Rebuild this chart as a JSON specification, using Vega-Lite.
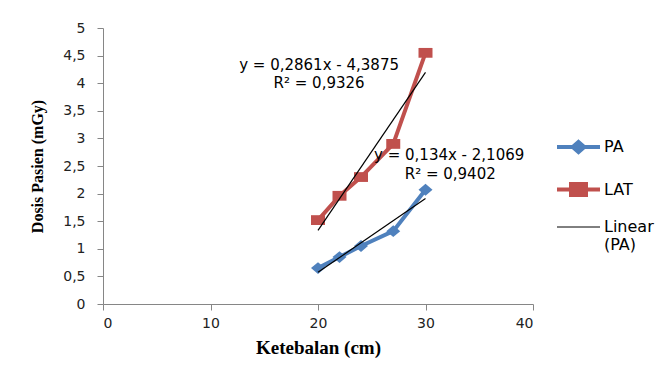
{
  "$schema": "https://vega.github.io/schema/vega-lite/v6.json",
  "width": 430,
  "height": 276,
  "autosize": {"type": "none"},
  "padding": {"left": 103, "top": 28, "right": 137, "bottom": 76},
  "background": "#ffffff",
  "config": {"view": {"stroke": null}},
  "datasets": {
    "series": [
      {"x": 20, "y": 0.65, "series": "PA"},
      {"x": 22, "y": 0.85, "series": "PA"},
      {"x": 24, "y": 1.05, "series": "PA"},
      {"x": 27, "y": 1.32, "series": "PA"},
      {"x": 30, "y": 2.07, "series": "PA"},
      {"x": 20, "y": 1.52, "series": "LAT"},
      {"x": 22, "y": 1.96, "series": "LAT"},
      {"x": 24, "y": 2.3, "series": "LAT"},
      {"x": 27, "y": 2.9, "series": "LAT"},
      {"x": 30, "y": 4.55, "series": "LAT"},
      {"x": 20, "y": 0.5731, "series": "Linear (PA)"},
      {"x": 30, "y": 1.9131, "series": "Linear (PA)"},
      {"x": 20, "y": 1.3345, "series": "Linear (LAT)"},
      {"x": 30, "y": 4.1955, "series": "Linear (LAT)"}
    ],
    "labels": [
      {"x": 20.1, "y": 4.33, "text": "y = 0,2861x - 4,3875"},
      {"x": 20.1, "y": 4.0, "text": "R² = 0,9326"},
      {"x": 32.2, "y": 2.7, "text": "y = 0,134x - 2,1069"},
      {"x": 32.3, "y": 2.355, "text": "R² = 0,9402"}
    ]
  },
  "encoding": {
    "x": {
      "field": "x", "type": "quantitative",
      "scale": {"domain": [0, 40], "nice": false},
      "axis": {
        "title": "Ketebalan (cm)", "values": [0, 10, 20, 30, 40], "grid": false,
        "titleFont": "Liberation Serif", "titleFontWeight": "bold", "titleFontSize": 19, "titleColor": "#000000",
        "labelFont": "DejaVu Sans", "labelFontSize": 14, "labelColor": "#222222",
        "domainColor": "#868686", "tickColor": "#868686", "tickSize": 6, "labelPadding": 6, "titlePadding": 8
      }
    },
    "y": {
      "field": "y", "type": "quantitative",
      "scale": {"domain": [0, 5], "nice": false},
      "axis": {
        "title": "Dosis Pasien (mGy)", "values": [0, 0.5, 1, 1.5, 2, 2.5, 3, 3.5, 4, 4.5, 5], "grid": false,
        "labelExpr": "replace(format(datum.value, '.1~f'), '.', ',')",
        "titleFont": "Liberation Serif", "titleFontWeight": "bold", "titleFontSize": 16, "titleColor": "#000000",
        "labelFont": "DejaVu Sans", "labelFontSize": 14, "labelColor": "#222222",
        "domainColor": "#868686", "tickColor": "#868686", "tickSize": 6, "labelPadding": 12, "titlePadding": 17
      }
    }
  },
  "layer": [
    {
      "data": {"name": "series"},
      "transform": [{"filter": "datum.series === 'PA' || datum.series === 'LAT'"}],
      "mark": {"type": "line", "strokeWidth": 4},
      "encoding": {
        "color": {
          "field": "series", "type": "nominal",
          "scale": {"domain": ["PA", "LAT", "Linear (PA)", "Linear (LAT)"], "range": ["#4F81BD", "#C0504D", "#000000", "#000000"]},
          "legend": {
            "orient": "none", "legendX": 467.5, "legendY": 111, "title": null,
            "values": ["PA", "LAT", "Linear (PA)"],
            "symbolSize": 100, "padding": 0, "rowPadding": 15.5, "labelOffset": 17.5,
            "labelFont": "DejaVu Sans", "labelFontSize": 16, "labelColor": "#000000", "labelLimit": 200,
            "labelExpr": "datum.label == 'Linear (PA)' ? ['Linear', '(PA)'] : datum.label",
            "encode": {
              "symbols": {"update": {
                "size": {"value": 100},
                "shape": {"signal": "datum.value === 'PA' ? 'M-4.3,0H4.3M0,-1.0L1.15,0L0,1.0L-1.15,0Z' : datum.value === 'LAT' ? 'M-4.3,0H4.3M-1.5,-1.1H1.5V1.1H-1.5Z' : 'M-4.3,0H4.3'"},
                "strokeWidth": {"signal": "datum.value === 'Linear (PA)' ? 1 : 4"},
                "fill": {"signal": "scale('color', datum.value)"},
                "stroke": {"signal": "scale('color', datum.value)"},
                "opacity": {"value": 1},
                "fillOpacity": {"value": 1},
                "strokeOpacity": {"value": 1}
              }}
            }
          }
        }
      }
    },
    {
      "data": {"name": "series"},
      "transform": [{"filter": "datum.series === 'PA' || datum.series === 'LAT'"}],
      "mark": {"type": "point", "filled": true, "opacity": 1, "size": 196},
      "encoding": {
        "color": {"field": "series", "type": "nominal"},
        "shape": {
          "field": "series", "type": "nominal",
          "scale": {"domain": ["PA", "LAT"], "range": ["M0,-0.85L1,0L0,0.85L-1,0Z", "M-1,-0.7H1V0.7H-1Z"]},
          "legend": null
        }
      }
    },
    {
      "data": {"name": "series"},
      "transform": [{"filter": "datum.series === 'Linear (PA)' || datum.series === 'Linear (LAT)'"}],
      "mark": {"type": "line", "strokeWidth": 1.2},
      "encoding": {
        "color": {"field": "series", "type": "nominal"}
      }
    },
    {
      "data": {"name": "labels"},
      "mark": {"type": "text", "font": "DejaVu Sans", "fontSize": 15, "color": "#000000", "align": "center", "baseline": "middle"},
      "encoding": {
        "text": {"field": "text", "type": "nominal"}
      }
    }
  ]
}
